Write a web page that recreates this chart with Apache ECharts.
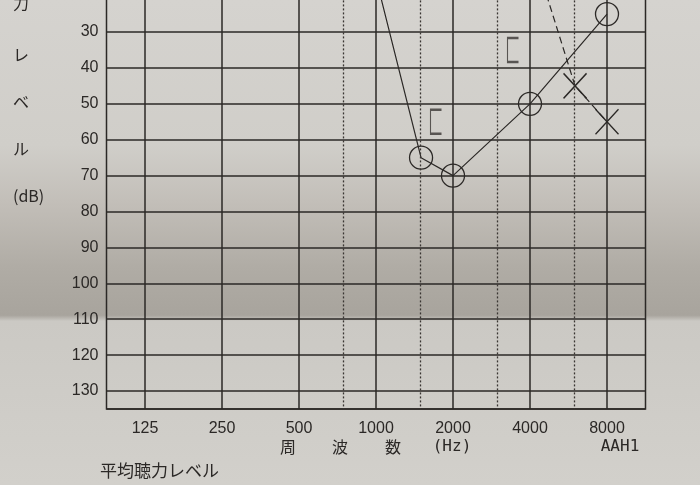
<!DOCTYPE html>
<html>
<head>
<meta charset="utf-8">
<script src="https://cdn.jsdelivr.net/npm/echarts@6/dist/echarts.min.js"></script>
<style>
html,body{margin:0;padding:0;background:#cfcdc9;}
#main{width:700px;height:485px;}
</style>
</head>
<body>
<div id="main"></div>
<script>
// ---- data ----
const freqLabels = ['125', '250', '500', '1000', '2000', '4000', '8000'];
const solidGridFreq = [125, 250, 500, 1000, 2000, 4000, 8000];
const dottedGridFreq = [750, 1500, 3000, 6000];
const rightAirFreq = [1000, 1500, 2000, 4000, 8000];
const rightAirDb = [15, 65, 70, 50, 25];
const leftAirFreq = [4000, 6000, 8000];
const leftAirDb = [5, 45, 55];
const rightBoneFreq = [2000, 4000];
const rightBoneDb = [55, 35];
const firstVisibleDb = 30;
const yAxisTitleChars = ['力', 'レ', 'ベ', 'ル', '(dB)'];
const xAxisTitleChars = ['周', '波', '数', '(Hz)'];
const codeText = 'AAH1';
const footerText = '平均聴力レベル';

// ---- helpers ----
const oct = f => Math.log2(f / 125);
const pairs = (fs, ds) => fs.map((f, i) => [oct(f), ds[i]]);
const ink = '#2b2826';
const numFont = '"Liberation Sans", "DejaVu Sans", sans-serif';
const monoFont = '"DejaVu Sans Mono", "Liberation Mono", monospace';
const jpFont = '"Noto Sans CJK JP", "Noto Sans", sans-serif';

const chart = echarts.init(document.getElementById('main'), null, {renderer: 'canvas'});

const vLines = solidGridFreq.map(f => ({xAxis: oct(f), lineStyle: {type: 'solid', width: 1.5, color: ink}}))
  .concat(dottedGridFreq.map(f => ({xAxis: oct(f), lineStyle: {type: [2, 2], width: 1.3, color: '#3a3633'}})));

const graphics = [];
const yTitleY = [4, 56, 103, 150, 197];
yAxisTitleChars.forEach((c, i) => {
  graphics.push({type: 'text', left: 13, top: yTitleY[i] - 9,
    style: {text: c, font: '16px ' + jpFont, fill: ink}});
});
const xTitleX = [288, 340, 393, 452];
xAxisTitleChars.forEach((c, i) => {
  graphics.push({type: 'text', x: xTitleX[i], y: 447,
    style: {text: c, font: (i === 3 ? '16px ' + monoFont : '16px ' + jpFont), fill: ink, align: 'center', verticalAlign: 'middle'}});
});
graphics.push({type: 'text', x: 620, y: 447, style: {text: codeText, font: '16px ' + monoFont, fill: ink, align: 'center', verticalAlign: 'middle'}});
graphics.push({type: 'text', x: 100, y: 471, style: {text: footerText, font: '17px ' + jpFont, fill: ink, align: 'left', verticalAlign: 'middle'}});

const option = {
  animation: false,
  backgroundColor: {
    type: 'linear', x: 0, y: 0, x2: 0, y2: 1,
    colorStops: [
      {offset: 0, color: '#d5d3cf'},
      {offset: 0.3, color: '#d0cec9'},
      {offset: 0.42, color: '#c2beb8'},
      {offset: 0.55, color: '#b0aca5'},
      {offset: 0.65, color: '#a8a49d'},
      {offset: 0.662, color: '#cbc9c4'},
      {offset: 1, color: '#d2d0cb'}
    ]
  },
  graphic: graphics,
  grid: {
    left: 106.5, right: 54.5, top: -111.6, bottom: 76,
    show: true, borderColor: ink, borderWidth: 1.5, backgroundColor: 'transparent',
    containLabel: false, outerBoundsMode: 'none'
  },
  xAxis: {
    type: 'value', min: -0.5, max: 6.5, interval: 0.5,
    axisLine: {show: false}, axisTick: {show: false}, splitLine: {show: false},
    axisLabel: {
      margin: 12, color: ink, fontFamily: numFont, fontSize: 16,
      showMinLabel: true, showMaxLabel: true,
      formatter: v => {
        const r = Math.round(v);
        return Math.abs(v - r) < 1e-6 && r >= 0 && r < freqLabels.length ? freqLabels[r] : '';
      }
    }
  },
  yAxis: {
    type: 'value', inverse: true, min: -10, max: 135, interval: 10,
    axisLine: {show: false}, axisTick: {show: false},
    splitLine: {show: true, lineStyle: {color: ink, width: 1.5}},
    axisLabel: {
      margin: 8, color: ink, fontFamily: numFont, fontSize: 16,
      formatter: v => (v >= firstVisibleDb && v % 10 === 0) ? String(v) : ''
    }
  },
  series: [
    {
      type: 'line', data: [], silent: true, z: 1,
      markLine: {silent: true, symbol: 'none', label: {show: false}, data: vLines, animation: false}
    },
    {
      name: 'right-air', type: 'line', silent: true, z: 3,
      data: pairs(rightAirFreq, rightAirDb),
      symbol: 'circle', symbolSize: 23,
      itemStyle: {color: 'rgba(0,0,0,0)', borderColor: ink, borderWidth: 1.3},
      lineStyle: {color: ink, width: 1.2}
    },
    {
      name: 'left-air', type: 'line', silent: true, z: 3,
      data: pairs(leftAirFreq, leftAirDb),
      symbol: 'path://M0,0L20,20M20,0L0,20', symbolSize: [23, 25],
      itemStyle: {color: 'rgba(0,0,0,0)', borderColor: ink, borderWidth: 1.4},
      lineStyle: {color: ink, width: 1.2, type: [7, 4]}
    },
    {
      name: 'right-bone', type: 'scatter', silent: true, z: 3,
      data: pairs(rightBoneFreq, rightBoneDb),
      symbol: 'path://M10,0L0,0L0,20L10,20', symbolSize: [11, 24], symbolOffset: [-17, 0],
      itemStyle: {color: 'rgba(0,0,0,0)', borderColor: '#3a3633', borderWidth: 1.6}
    }
  ]
};
chart.setOption(option);
</script>
</body>
</html>
